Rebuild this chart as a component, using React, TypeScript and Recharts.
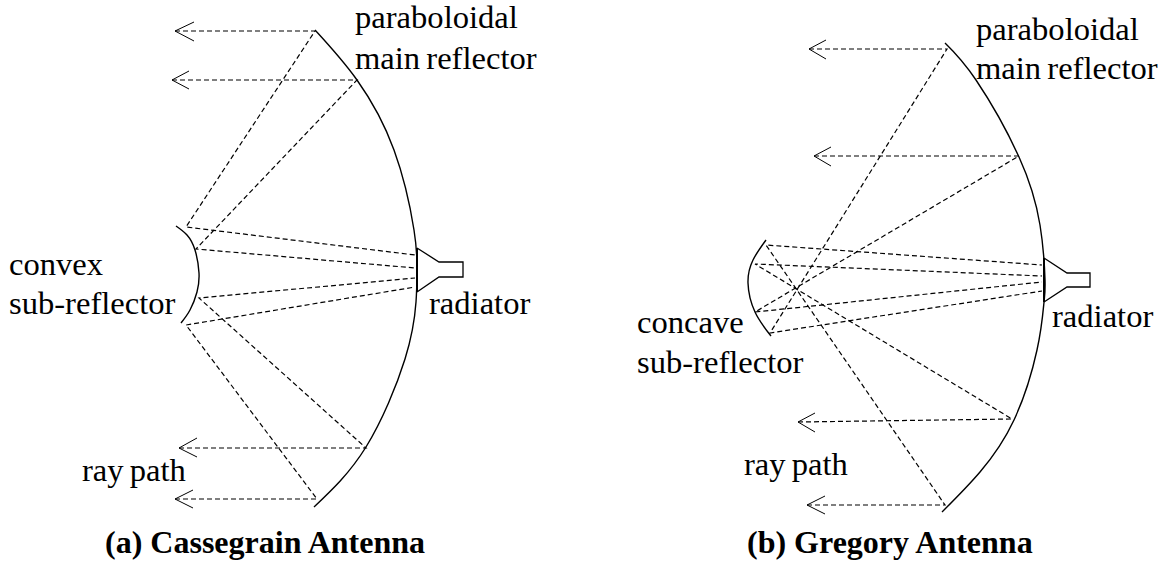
import { LineChart, Line, XAxis, YAxis, ReferenceDot } from 'recharts'

type Pt = [number, number]

// (a) Cassegrain
const mainA: Pt[] = [[315, 30], [357, 80], [394, 150], [414, 230], [417, 270], [416, 302], [405, 359], [366, 447], [314, 507]]
const subA: Pt[] = [[176, 226], [187, 235], [195, 250], [199, 273], [197, 292], [190, 310], [181, 323]]
const hornA: Pt[] = [[417, 248], [439, 262], [463, 262], [463, 277], [439, 277], [417, 292]]
const feedA: Pt[] = [[417, 248], [417, 292]]
const raysA: Pt[][] = [
  [[175, 31], [315, 31], [186, 227], [415, 255]],
  [[172, 80], [357, 80], [196, 249], [415, 268]],
  [[179, 448], [366, 448], [199, 298], [415, 278]],
  [[175, 499], [317, 499], [186, 325], [415, 287]],
]
const headsA: Pt[][] = [
  [[194, 22], [175, 31], [194, 41]],
  [[189, 71], [172, 80], [189, 89]],
  [[197, 438], [179, 448], [197, 457]],
  [[193, 490], [175, 499], [193, 508]],
]

// (b) Gregory
const mainB: Pt[] = [[945, 43], [976, 80], [1019, 157], [1040, 225], [1045, 280], [1044, 302], [1037, 350], [1014, 420], [980, 472], [942, 512]]
const subB: Pt[] = [[766, 240], [753, 260], [748, 283], [755, 312], [771, 336]]
const hornB: Pt[] = [[1044, 258], [1067, 273], [1090, 273], [1090, 287], [1067, 287], [1044, 302]]
const feedB: Pt[] = [[1044, 258], [1044, 302]]
const raysB: Pt[][] = [
  [[809, 49], [947, 49], [770, 333], [1042, 291]],
  [[814, 156], [1019, 156], [755, 312], [1042, 282]],
  [[798, 422], [1012, 419], [755, 264], [1042, 276]],
  [[807, 505], [945, 505], [766, 245], [1042, 265]],
]
const headsB: Pt[][] = [
  [[826, 40], [809, 49], [826, 59]],
  [[831, 147], [814, 156], [831, 166]],
  [[815, 413], [798, 422], [815, 432]],
  [[825, 496], [807, 505], [825, 514]],
]

const labels: [string, number, number][] = [
  ['paraboloidal', 355, 28],
  ['main reflector', 355, 69],
  ['convex', 9, 275],
  ['sub-reflector', 9, 314],
  ['radiator', 429, 314],
  ['ray path', 82, 481],
  ['paraboloidal', 976, 40],
  ['main reflector', 976, 79],
  ['radiator', 1052, 327],
  ['concave', 637, 333],
  ['sub-reflector', 637, 373],
  ['ray path', 744, 475],
]
const titles: [string, number, number][] = [
  ['(a) Cassegrain Antenna', 105, 553],
  ['(b) Gregory Antenna', 747, 553],
]

const rows = (pts: Pt[]) => pts.map(([x, y]) => ({ x, y }))

const solid = (pts: Pt[], key: string, width: number, type: any = 'linear') => (
  <Line key={key} data={rows(pts)} dataKey="y" type={type} stroke="#000" strokeWidth={width} dot={false} activeDot={false} isAnimationActive={false} />
)
const dashed = (pts: Pt[], key: string) => (
  <Line key={key} data={rows(pts)} dataKey="y" type="linear" stroke="#000" strokeWidth={1.2} strokeDasharray="5 3" dot={false} activeDot={false} isAnimationActive={false} />
)

const textAt = (text: string, x: number, y: number, key: string, bold: boolean) => (
  <ReferenceDot
    key={key}
    x={x}
    y={y}
    ifOverflow="visible"
    shape={(p: any) => (
      <text
        x={p.cx}
        y={p.cy}
        fontFamily="'Liberation Serif'"
        fontSize={bold ? 32 : 32.6}
        fontWeight={bold ? 700 : 400}
        wordSpacing={bold ? 0 : -2}
        fill="#000"
      >
        {text}
      </text>
    )}
  />
)

export default function App() {
  return (
    <div style={{ position: 'absolute', left: 0, top: 0, width: 1165, height: 564, background: '#fff' }}>
      <LineChart width={1165} height={564} margin={{ top: 0, right: 0, bottom: 0, left: 0 }}>
        <XAxis type="number" dataKey="x" domain={[0, 1165]} hide allowDuplicatedCategory={false} />
        <YAxis type="number" domain={[0, 564]} reversed hide />
        {solid(mainA, 'mainA', 1.4, 'natural')}
        {solid(subA, 'subA', 1.4, 'natural')}
        {solid(hornA, 'hornA', 1.3)}
        {solid(feedA, 'feedA', 2)}
        {solid(mainB, 'mainB', 1.4, 'natural')}
        {solid(subB, 'subB', 1.4, 'natural')}
        {solid(hornB, 'hornB', 1.3)}
        {solid(feedB, 'feedB', 2)}
        {raysA.map((r, i) => dashed(r, `rayA${i}`))}
        {raysB.map((r, i) => dashed(r, `rayB${i}`))}
        {headsA.map((r, i) => solid(r, `headA${i}`, 1))}
        {headsB.map((r, i) => solid(r, `headB${i}`, 1))}
        {labels.map(([t, x, y], i) => textAt(t, x, y, `label${i}`, false))}
        {titles.map(([t, x, y], i) => textAt(t, x, y, `title${i}`, true))}
      </LineChart>
    </div>
  )
}
